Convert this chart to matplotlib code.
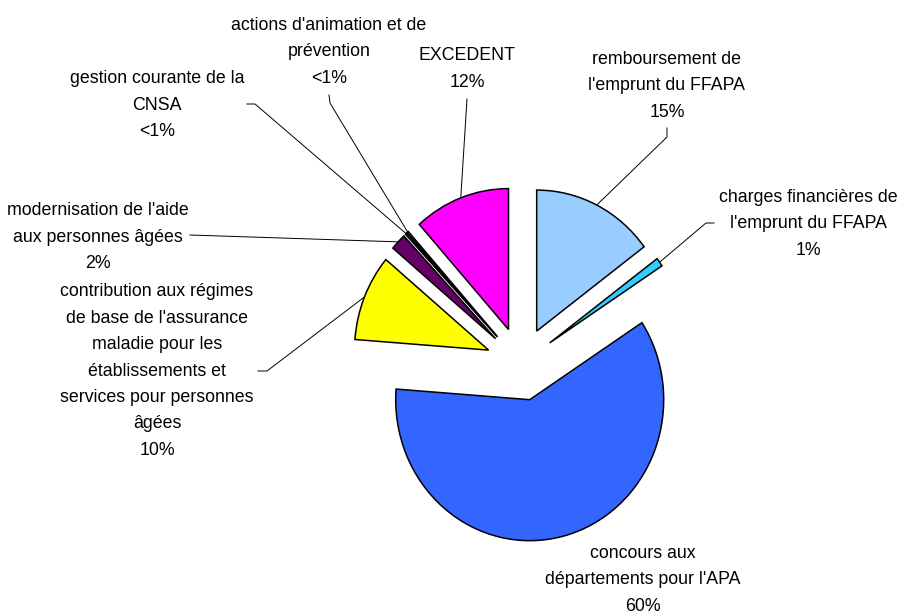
import numpy as np
import matplotlib.pyplot as plt

plt.rcParams['font.family'] = ['Liberation Sans', 'DejaVu Sans']

labels = ["remboursement de\nl'emprunt du FFAPA",
          "charges financières de\nl'emprunt du FFAPA",
          "concours aux\ndépartements pour l'APA",
          "contribution aux régimes\nde base de l'assurance\nmaladie pour les\nétablissements et\nservices pour personnes\nâgées",
          "modernisation de l'aide\naux personnes âgées",
          "gestion courante de la\nCNSA",
          "actions d'animation et de\nprévention",
          "EXCEDENT"]
values = [14.8, 1.0, 60.4, 9.9, 1.9, 0.2, 0.2, 11.6]
colors = ['#99CCFF', '#33CCFF', '#3366FF', '#FFFF00', '#660066',
          '#CCFFFF', '#FFFFCC', '#FF00FF']

# label layout in pixels (from top-left): text centre, then leader path (elbows)
text_pos = [(667, 86), (808, 224), (643, 580), (157, 371),
            (98, 237), (157, 105), (329, 52), (467, 69)]
leader = [[(667, 137), (667, 128)],
          [(706, 223), (714, 223)],
          None,
          [(267, 371), (258, 371)],
          [(190, 235)],
          [(255, 104), (247, 104)],
          [(330, 103), (329, 95)],
          [(467, 99)]]

W, H = 901, 616
K = 141 / 134          # the pie is drawn slightly taller than wide


def Y(py):
    return (H - py) / K


cx, cy, R, EXPL = 521, Y(364), 134, 35

fig = plt.figure(figsize=(9.01, 6.16), dpi=100)
ax = fig.add_axes([0, 0, 1, 1])

wedges, _ = ax.pie(values, colors=colors, startangle=90, counterclock=False,
                   center=(cx, cy), radius=R, explode=[EXPL] * len(values),
                   wedgeprops=dict(edgecolor='black', linewidth=1.1))

total = sum(values)
for i, w in enumerate(wedges):
    pct = values[i] / total * 100
    ptxt = '<1%' if pct < 0.5 else '%d%%' % round(pct)
    tx, ty = text_pos[i]
    ax.text(tx, Y(ty), labels[i] + '\n' + ptxt, ha='center', va='center',
            fontsize=12.8, linespacing=1.72, color='black')
    if leader[i] is not None:
        tm = np.deg2rad((w.theta1 + w.theta2) / 2)
        x0 = w.center[0] + w.r * np.cos(tm)
        y0 = w.center[1] + w.r * np.sin(tm)
        xs = [x0] + [p[0] for p in leader[i]]
        ys = [y0] + [Y(p[1]) for p in leader[i]]
        ax.plot(xs, ys, color='black', lw=0.7)

ax.set_xlim(0, W)
ax.set_ylim(0, H / K)
ax.set_aspect('auto')
ax.axis('off')

fig.savefig('out.png', dpi=100)
